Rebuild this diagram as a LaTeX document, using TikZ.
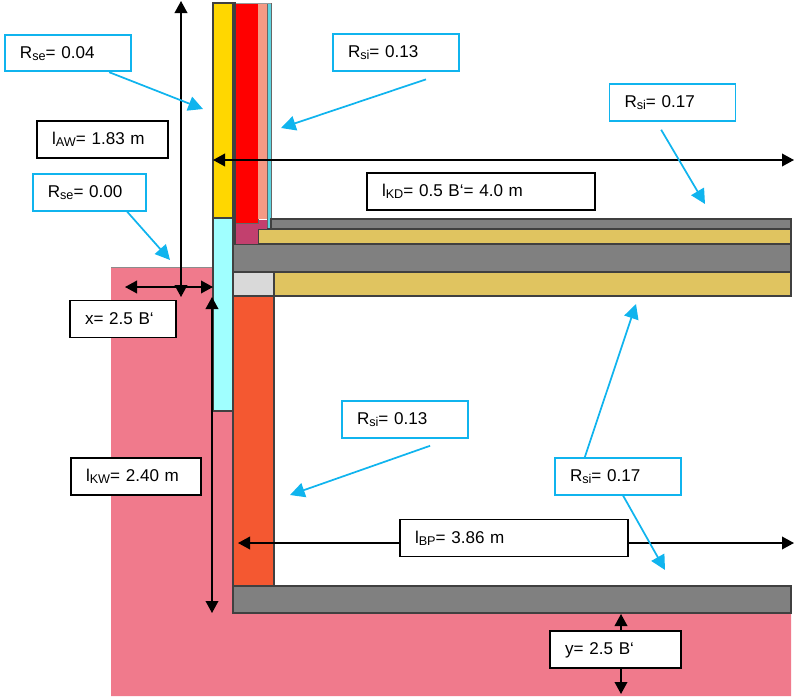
\documentclass[tikz,border=0pt]{standalone}
\usepackage{fontspec}
\setmainfont{Liberation Sans}
\usetikzlibrary{arrows.meta}

\definecolor{soil}{HTML}{F07A8C}
\definecolor{plaster}{HTML}{FFD700}
\definecolor{brick}{HTML}{FF0000}
\definecolor{salmon}{HTML}{F59A85}
\definecolor{foil}{HTML}{5FD4E0}
\definecolor{perim}{HTML}{A0FFFF}
\definecolor{plum}{HTML}{C2406E}
\definecolor{concrete}{HTML}{808080}
\definecolor{screed}{HTML}{E0C460}
\definecolor{edge}{HTML}{D9D9D9}
\definecolor{cellar}{HTML}{F45831}
\definecolor{rblue}{HTML}{10B4EE}

\newcommand{\lowsub}[1]{\raisebox{-0.2ex}{\fontsize{9.5}{10}\selectfont #1}}

\tikzset{
	layer/.style = {draw = black!75, line width = 0.8pt},
	valbox/.style = {draw = black, fill = white, line width = 1.1pt, inner xsep = 11.25pt, inner ysep = 0pt, minimum height = 27.5pt, text height = 10pt, text depth = 2pt, align = left, font = \fontsize{12.8}{15}\selectfont},
	rbox/.style = {valbox, draw = rblue, line width = 1.3pt},
	dim/.style = {black, line width = 1.1pt, {Triangle[width = 9.5pt, length = 9pt]}-{Triangle[width = 9.5pt, length = 9pt]}},
	rarrow/.style = {rblue, line width = 1.3pt, -{Triangle[width = 11pt, length = 11pt]}}
}

\begin{document}
\begin{tikzpicture}[x = 0.75pt, y = -0.75pt]
	\useasboundingbox (0,0) rectangle (797,700);
	
	% ground
	\fill[soil] (111,267) -- (233,267) -- (233,613) -- (791,613) -- (791,696) -- (111,696) -- cycle;
	\draw[black!45, line width = 0.6pt] (111,267) -- (213,267);
	
	% upper wall, no outlines between the inner layers
	\fill[salmon] (258,3) rectangle (267,219);
	\fill[brick] (235,3) rectangle (258,223);
	\draw[black!60, line width = 0.6pt] (235,223) -- (258,223) -- (258,219);
	\draw[black!60, line width = 0.6pt, fill = foil] (267.5,3) rectangle (271,228);
	\draw[black!40, line width = 0.5pt] (213,3) -- (271,3);
	
	% wall and floor layers
	\foreach \xa/\ya/\xb/\yb/\col in {
		233/3/235/244/foil,
		213/218/233/411/perim,
		213/3/233/218/plaster,
		271/219/791/229/concrete,
		258/229/791/244/screed,
		233/244/791/272/concrete,
		233/272/274/296/edge,
		274/272/791/296/screed,
		233/296/274/586/cellar,
		233/586/791/613/concrete}
	{
		\draw[layer, fill = \col] (\xa,\ya) rectangle (\xb,\yb);
	}
	\fill[plum] (235.5,228) rectangle (258,243.5);
	\fill[plum] (235.5,223.5) rectangle (267,228.5);
	\fill[plum] (258.5,219.5) rectangle (266.5,224);
	
	% free ends
	\coordinate (topW) at (181,1);
	\coordinate (botW) at (181,297);
	\coordinate (leftD) at (213,160);
	\coordinate (rightD) at (794,160);
	\coordinate (leftX) at (125,287);
	\coordinate (rightX) at (213,287);
	\coordinate (topK) at (212,297);
	\coordinate (botK) at (212,613);
	\coordinate (leftB) at (238,543);
	\coordinate (rightB) at (794,543);
	\coordinate (topY) at (621,614);
	\coordinate (botY) at (621,694);
	
	% dimensions
	\draw[dim] (topW) -- (botW);
	\draw[dim] (leftD) -- (rightD);
	\draw[dim] (leftX) -- (rightX);
	\draw[dim] (topK) -- (botK);
	\draw[dim] (leftB) -- (rightB);
	\draw[dim] (topY) -- (botY);
	
	% value boxes
	\node[rbox, text width = 72pt] (rseA) at (68,53) {R\lowsub{se}= 0.04};
	\node[rbox, text width = 72pt] (rsiA) at (396,52.5) {R\lowsub{si}= 0.13};
	\node[rbox, text width = 72pt] (rsiB) at (672.5,102.5) {R\lowsub{si}= 0.17};
	\node[rbox, text width = 62.5pt] (rseB) at (89.5,192.5) {R\lowsub{se}= 0.00};
	\node[rbox, text width = 72pt] (rsiC) at (405,419.5) {R\lowsub{si}= 0.13};
	\node[rbox, text width = 72pt] (rsiD) at (618,476.5) {R\lowsub{si}= 0.17};
	\node[valbox, text width = 75.5pt] (lenAW) at (102.5,139.5) {l\lowsub{AW}= 1.83 m};
	\node[valbox, text width = 148.5pt] (lenKD) at (481,191.5) {l\lowsub{KD}= 0.5 B‘= 4.0 m};
	\node[valbox, text width = 57pt] (xval) at (123,319) {x= 2.5 B‘};
	\node[valbox, text width = 75pt] (lenKW) at (136,476.5) {l\lowsub{KW}= 2.40 m};
	\node[valbox, text width = 148.5pt] (lenBP) at (514,538) {l\lowsub{BP}= 3.86 m};
	\node[valbox, text width = 75.5pt] (yval) at (615.5,649.5) {y= 2.5 B‘};
	
	% heat transfer arrows
	\coordinate (toA) at (203,109);
	\coordinate (toB) at (281,128);
	\coordinate (toC) at (705,204);
	\coordinate (toD) at (170,260);
	\coordinate (toE) at (290,495);
	\coordinate (toF) at (636,304);
	\coordinate (toG) at (665,570);
	
	\draw[rarrow] (rseA.-25) -- (toA);
	\draw[rarrow, shorten < = 18pt] (rsiA.-20) -- (toB);
	\draw[rarrow, shorten < = 7pt] (rsiB.-130) -- (toC);
	\draw[rarrow] (rseB.-27) -- (toD);
	\draw[rarrow, shorten < = 16pt] (rsiC.-23) -- (toE);
	\draw[rarrow] (rsiD.150) -- (toF);
	\draw[rarrow] (rsiD.-75) -- (toG);
\end{tikzpicture}
\end{document}
